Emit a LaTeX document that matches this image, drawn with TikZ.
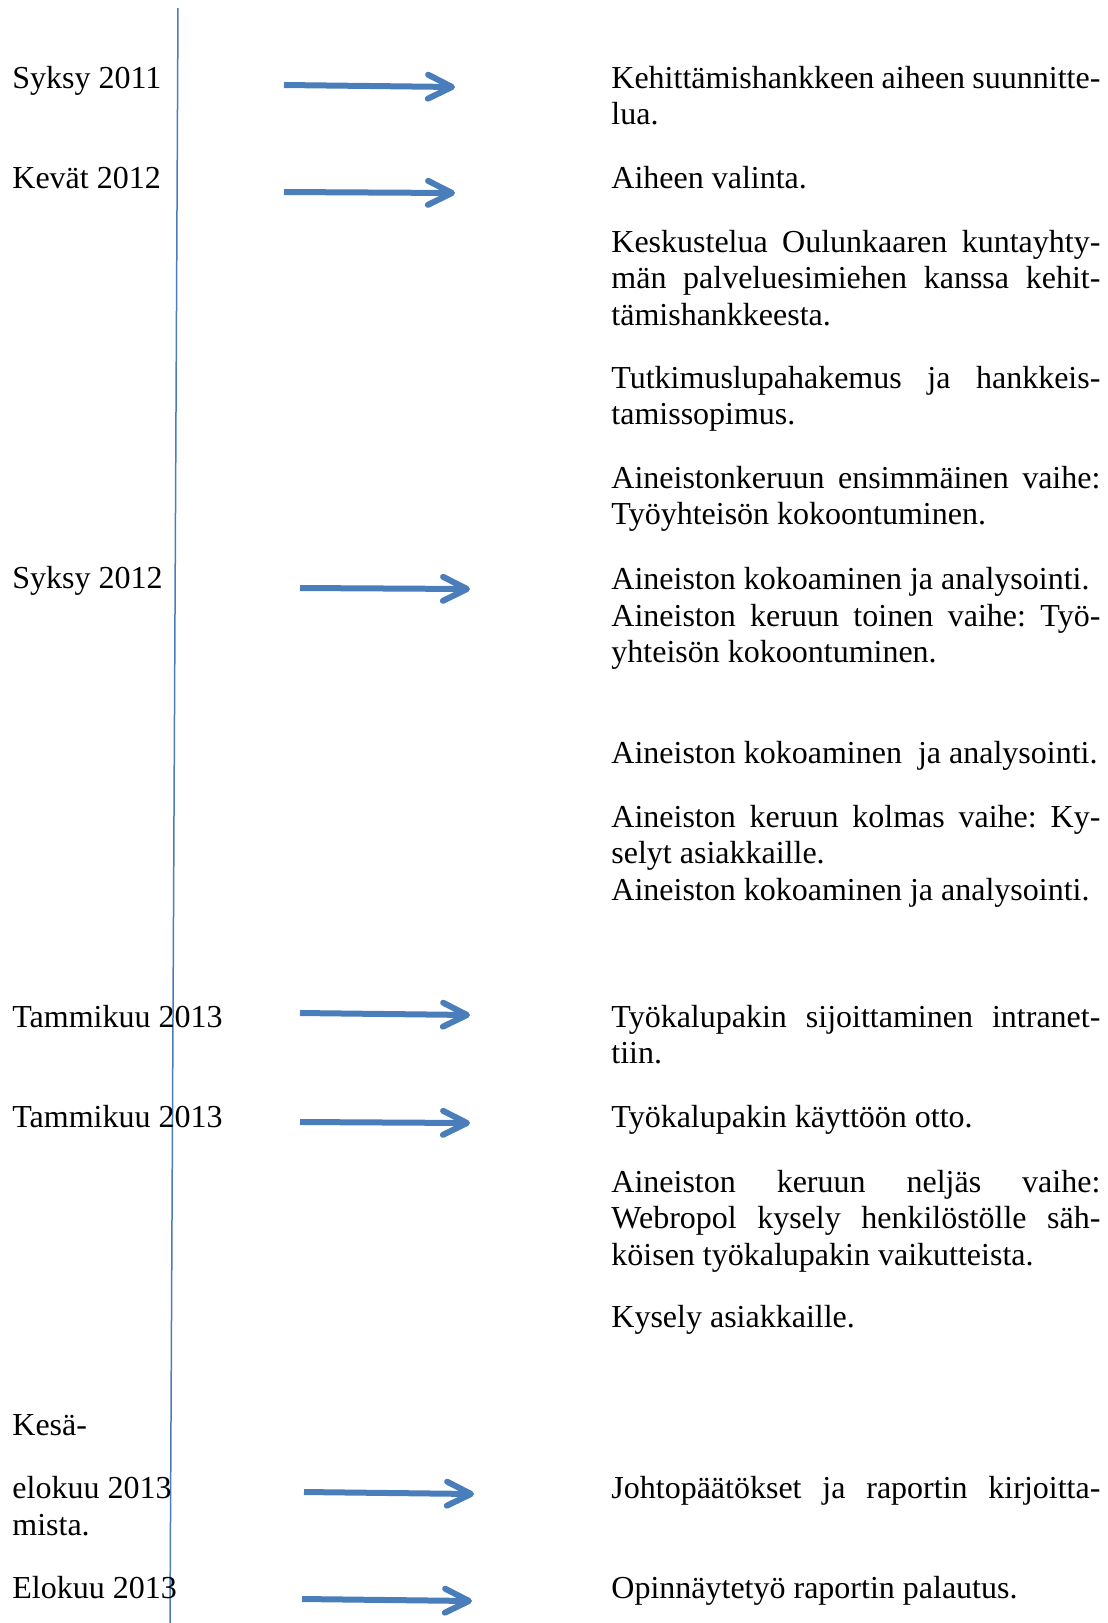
\documentclass[tikz,border=0pt]{standalone}
\usepackage{fontspec}
\setmainfont{Liberation Serif}
\usetikzlibrary{arrows.meta,positioning}

\definecolor{lineblue}{HTML}{4A7EBB}
\tolerance=10000
\hbadness=10000
\hyphenpenalty=10000
\frenchspacing

\tikzset{
  period/.style={anchor=base west, inner sep=0pt, font=\fontsize{16}{18.4}\selectfont},
  task/.style={period, text width=244.5pt, align=justify},
  timeline/.style={draw=lineblue, line width=0.75pt},
  phase/.style={draw=lineblue, line width=3pt, -{Straight Barb[round,length=12pt,width=12pt]}},
}

\begin{document}
\begin{tikzpicture}[x=0.5pt,y=-0.5pt]
  \useasboundingbox (0,0) rectangle (1108,1623);

  % aikajana
  \coordinate (top) at (178,8);
  \coordinate (bottom) at (170,1623);
  \draw[timeline] (top) -- (bottom);

  % ajankohdat
  \node[period] (syksy11) at (12,88) {Syksy 2011};
  \node[period] (kevat12) at (12,188) {Kevät 2012};
  \node[period] (syksy12) at (12,588) {Syksy 2012};
  \node[period] (tammi13a) at (12,1027) {Tammikuu 2013};
  \node[period] (tammi13b) at (12,1127) {Tammikuu 2013};
  \node[period] (kesa13) at (12,1435) {Kesä-};
  \node[period] (elo13a) at (12,1498) {elokuu 2013};
  \node[period] (mista) at (12,1535) {mista.};
  \node[period] (elo13b) at (12,1598) {Elokuu 2013};

  % nuolet
  \foreach \n/\xa/\ya/\xb/\yb in {1/284/85/455/87, 2/284/192/455/193,
      3/300/588/470/589, 4/300/1013/470/1015, 5/300/1122/470/1123,
      6/304/1492/474/1494, 7/302/1599/472/1601} {
    \coordinate (from\n) at (\xa,\ya);
    \coordinate (to\n) at (\xb,\yb);
    \draw[phase] (from\n) -- (to\n);
  }

  % tehtavat
  \node[task] (suunnittelu) at (611,88) {Kehittämishankkeen aiheen suunnitte-\linebreak lua.};
  \node[task] (valinta) at (611,188) {Aiheen valinta.};
  \node[task] (keskustelu) at (611,252) {Keskustelua Oulunkaaren kuntayhty-\linebreak män palveluesimiehen kanssa kehit-\linebreak tämishankkeesta.};
  \node[task] (lupa) at (611,388) {Tutkimuslupahakemus ja hankkeis-\linebreak tamissopimus.};
  \node[task] (vaihe1) at (611,488) {Aineistonkeruun ensimmäinen vaihe:\linebreak Työyhteisön kokoontuminen.};
  \node[task] (analyysi1) at (611,589) {Aineiston kokoaminen ja analysointi.};
  \node[task] (vaihe2) at (611,626) {Aineiston keruun toinen vaihe: Työ-\linebreak yhteisön kokoontuminen.};
  \node[task] (analyysi2) at (611,763) {Aineiston kokoaminen\ \ ja analysointi.};
  \node[task] (vaihe3) at (611,827) {Aineiston keruun kolmas vaihe: Ky-\linebreak selyt asiakkaille.};
  \node[task] (analyysi3) at (611,900) {Aineiston kokoaminen ja analysointi.};
  \node[task] (intranet) at (611,1027) {Työkalupakin sijoittaminen intranet-\linebreak tiin.};
  \node[task] (kaytto) at (611,1127) {Työkalupakin käyttöön otto.};
  \node[task] (vaihe4) at (611,1192) {Aineiston keruun neljäs vaihe:\linebreak Webropol kysely henkilöstölle säh-\linebreak köisen työkalupakin vaikutteista.};
  \node[task] (kysely) at (611,1327) {Kysely asiakkaille.};
  \node[task] (raportti) at (611,1498) {\makebox[\linewidth][s]{Johtopäätökset ja raportin kirjoitta-}};
  \node[task] (palautus) at (611,1598) {Opinnäytetyö raportin palautus.};

\end{tikzpicture}
\end{document}
